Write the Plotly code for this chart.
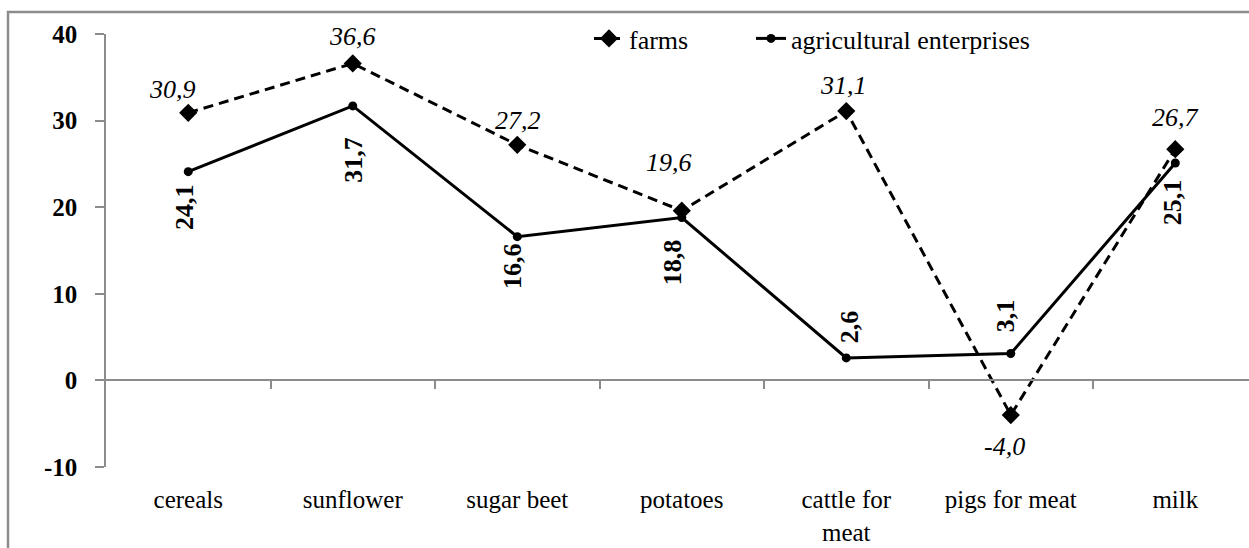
import plotly.graph_objects as go

categories = ["cereals", "sunflower", "sugar beet", "potatoes", "cattle for<br>meat", "pigs for meat", "milk"]
farms = [30.9, 36.6, 27.2, 19.6, 31.1, -4.0, 26.7]
enterprises = [24.1, 31.7, 16.6, 18.8, 2.6, 3.1, 25.1]
y_ticks = [-10, 0, 10, 20, 30, 40]
y_tick_text = ["-10", "0", "10", "20", "30", "40"]

# label offsets in pixels (style only)
farms_shift = [(-16, 23), (0, 27), (1, 24), (-13, 48), (-3, 26), (-6, -31), (0, 32)]
ent_shift = [(-4, -35), (1, -54), (-5, -29), (-9, -45), (4, 31), (-5, 38), (-3, -39)]

W, H = 1249, 548
FONT = "'Times New Roman', 'Liberation Serif', 'DejaVu Serif', serif"
GRAY = "#8c8c8c"
FS = 26

x_idx = list(range(len(categories)))
x_range = [-0.5, 6.448]
y_range = [-10, 40]
y_dom = [81 / H, 514 / H]
zero_pos = y_dom[0] + (0 - y_range[0]) / (y_range[1] - y_range[0]) * (y_dom[1] - y_dom[0])

def fmt(v):
    return f"{v:.1f}".replace(".", ",")

fig = go.Figure()
fig.add_trace(go.Scatter(
    x=x_idx, y=farms, name="farms", mode="lines+markers",
    line=dict(color="black", width=3, dash="10px,6px"),
    marker=dict(symbol="diamond", size=14, color="black"),
    legend="legend",
))
fig.add_trace(go.Scatter(
    x=x_idx, y=enterprises, name="agricultural enterprises", mode="lines+markers",
    line=dict(color="black", width=3),
    marker=dict(symbol="circle", size=9, color="black"),
    legend="legend2",
))
fig.add_trace(go.Scatter(x=[0], y=[0], xaxis="x2", mode="markers",
                         marker=dict(opacity=0), showlegend=False, hoverinfo="skip"))

for i, v in enumerate(farms):
    fig.add_annotation(x=x_idx[i], y=v, text="<i>" + fmt(v) + "</i>", showarrow=False,
                       xshift=farms_shift[i][0], yshift=farms_shift[i][1],
                       font=dict(family=FONT, size=FS, color="black"))
for i, v in enumerate(enterprises):
    fig.add_annotation(x=x_idx[i], y=v, text="<b>" + fmt(v) + "</b>", showarrow=False,
                       xshift=ent_shift[i][0], yshift=ent_shift[i][1],
                       font=dict(family=FONT, size=FS, color="black"),
                       textangle=-90)

leg_common = dict(orientation="h", xanchor="left", yanchor="top", y=1 - 15 / H,
                  font=dict(family=FONT, size=FS, color="black"),
                  bgcolor="rgba(0,0,0,0)", borderwidth=0)

fig.update_layout(
    width=W, height=H,
    margin=dict(l=0, r=0, t=0, b=0, autoexpand=False),
    paper_bgcolor="white", plot_bgcolor="white",
    font=dict(family=FONT, size=FS, color="black"),
    showlegend=True,
    legend=dict(x=589 / W, **leg_common),
    legend2=dict(x=751 / W, **leg_common),
    xaxis=dict(domain=[106 / W, 1], range=x_range, tickmode="array", tickvals=x_idx,
               ticktext=categories, showgrid=False, zeroline=False, showline=False,
               ticks="", ticklabelstandoff=15, automargin=False,
               tickfont=dict(family=FONT, size=25, color="black")),
    xaxis2=dict(overlaying="x", anchor="free", position=zero_pos, range=x_range,
                tickmode="array", tickvals=[i + 0.5 for i in x_idx],
                showticklabels=False, ticks="outside", ticklen=8, tickcolor=GRAY, tickwidth=1.5,
                showline=True, linecolor=GRAY, linewidth=2, showgrid=False, zeroline=False,
                automargin=False),
    yaxis=dict(domain=y_dom, range=y_range, tickmode="array", tickvals=y_ticks,
               ticktext=y_tick_text, automargin=False,
               showgrid=False, zeroline=False, showline=True, linecolor=GRAY, linewidth=1.5,
               ticks="outside", ticklen=9, tickcolor=GRAY, tickwidth=1.5, ticklabelstandoff=13,
               tickfont=dict(family=FONT, size=25, color="black", weight="bold")),
    shapes=[dict(type="rect", xref="paper", yref="paper",
                 x0=8 / W, x1=1.0 + 10 / W, y0=-10 / H, y1=1 - 12 / H,
                 line=dict(color=GRAY, width=2.5), fillcolor="rgba(0,0,0,0)", layer="below")],
)

fig.write_html("out.html", post_script="document.body.style.margin='0px';",
               config={"displayModeBar": False})
